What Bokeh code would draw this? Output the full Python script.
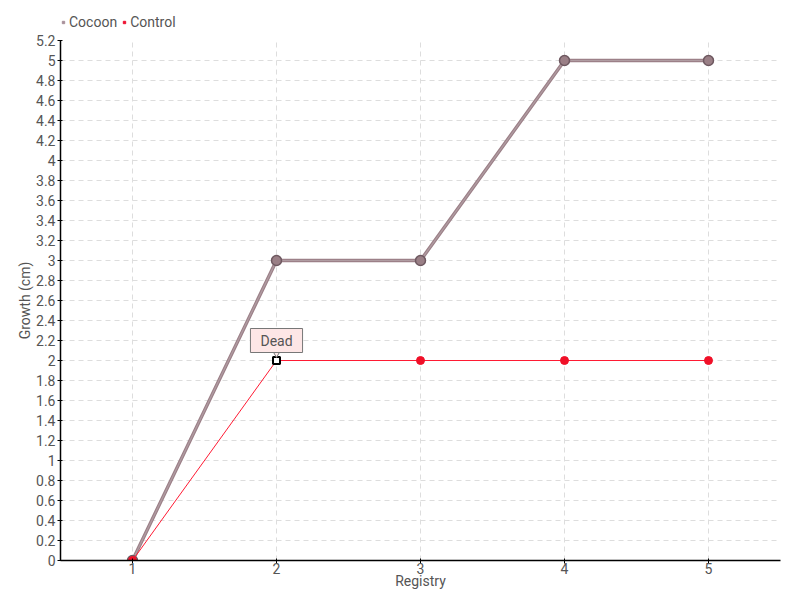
from bokeh.plotting import figure
from bokeh.layouts import column
from bokeh.models import (FixedTicker, Legend, LegendItem, Label, ColumnDataSource)
from bokeh.embed import file_html
from bokeh.resources import INLINE

registry = [1, 2, 3, 4, 5]
cocoon = [0, 3, 3, 5, 5]
control = [0, 2, 2, 2, 2]
series_names = ["Cocoon", "Control"]
y_ticks = [round(i * 0.2, 1) for i in range(27)]
y_labels = {t: ("%g" % t) for t in y_ticks}
dead_x, dead_y, dead_text = 2, 2, "Dead"

FONT = "Roboto"
TXT = "#555555"
COCOON_C = "#9c8088"
CONTROL_C = "#f01028"

# ---- legend strip (top) ----
lg = figure(width=800, height=30, output_backend="svg", toolbar_location=None,
            x_range=(0, 1), y_range=(0, 1), min_border=0,
            x_axis_location=None, y_axis_location=None)
lg.grid.visible = False
lg.outline_line_color = None
d1 = lg.scatter([-10], [-10], marker="square", size=6, fill_color="#a8909a", line_color="#a8909a")
d2 = lg.scatter([-10], [-10], marker="square", size=6, fill_color="#ee1030", line_color="#ee1030")
legend = Legend(items=[LegendItem(label=series_names[0], renderers=[d1]),
                       LegendItem(label=series_names[1], renderers=[d2])],
                orientation="horizontal", location=(0, 0),
                label_text_font=FONT, label_text_font_size="14px", label_text_color=TXT,
                glyph_width=6, glyph_height=6, label_standoff=3, spacing=4,
                padding=0, margin=0, border_line_color=None, background_fill_alpha=0)
lg.add_layout(legend)

# ---- main plot ----
p = figure(width=800, height=570, output_backend="svg", toolbar_location=None,
           x_range=(0.5, 5.5), y_range=(0, 5.2),
           min_border_left=60, min_border_right=20, min_border_top=10, min_border_bottom=40)
p.outline_line_color = None
p.background_fill_color = "white"

p.xaxis.ticker = FixedTicker(ticks=registry)
p.yaxis.ticker = FixedTicker(ticks=y_ticks)
p.yaxis.major_label_overrides = y_labels
for ax in (p.xaxis[0], p.yaxis[0]):
    ax.axis_line_color = "black"
    ax.axis_line_width = 1.5
    ax.major_tick_line_color = "black"
    ax.major_tick_out = 3
    ax.major_tick_in = 2
    ax.minor_tick_line_color = None
    ax.major_label_text_font = FONT
    ax.major_label_text_font_size = "14px"
    ax.major_label_text_color = TXT
    ax.axis_label_text_font = FONT
    ax.axis_label_text_font_size = "14px"
    ax.axis_label_text_color = TXT
    ax.axis_label_text_font_style = "normal"
p.xaxis.axis_label = "Registry"
p.yaxis.axis_label = "Growth (cm)"
p.xaxis.major_label_standoff = -1
p.xaxis.axis_label_standoff = -4
p.yaxis.major_label_standoff = 2
p.yaxis.axis_label_standoff = 0

p.grid.grid_line_color = "#dddddd"
p.grid.grid_line_dash = "5 4"
p.grid.grid_line_width = 1

src = ColumnDataSource(dict(x=registry, cocoon=cocoon, control=control))

p.line("x", "cocoon", source=src, line_color=COCOON_C, line_width=3.5)
p.line("x", "cocoon", source=src, line_color="#b09ca2", line_width=1.2)
p.scatter("x", "cocoon", source=src, size=10, fill_color="#9a7f86", line_color="#6e5860", line_width=1.5)

p.line("x", "control", source=src, line_color="#ff1a33", line_width=1)
p.scatter("x", "control", source=src, size=8, fill_color=CONTROL_C, line_color=CONTROL_C)

# annotation box
lab = Label(x=dead_x, y=dead_y, x_offset=0, y_offset=8, text=dead_text, text_align="center",
            text_font=FONT, text_font_size="14px", text_color=TXT,
            background_fill_color="#fde6e6", border_line_color="#777777", border_line_width=1,
            padding=(10, 10, 4, 4))
p.add_layout(lab)

# highlighted dead point and pointer
p.scatter([dead_x], [dead_y], size=7, marker="square", fill_color="white", line_color="black", line_width=2)
p.scatter([dead_x], [dead_y + 0.065], size=6, marker="inverted_triangle",
          fill_color="#fdeaea", line_color="#777777", line_width=1)

open("out.html", "w").write(file_html(column(lg, p, spacing=0), INLINE))
